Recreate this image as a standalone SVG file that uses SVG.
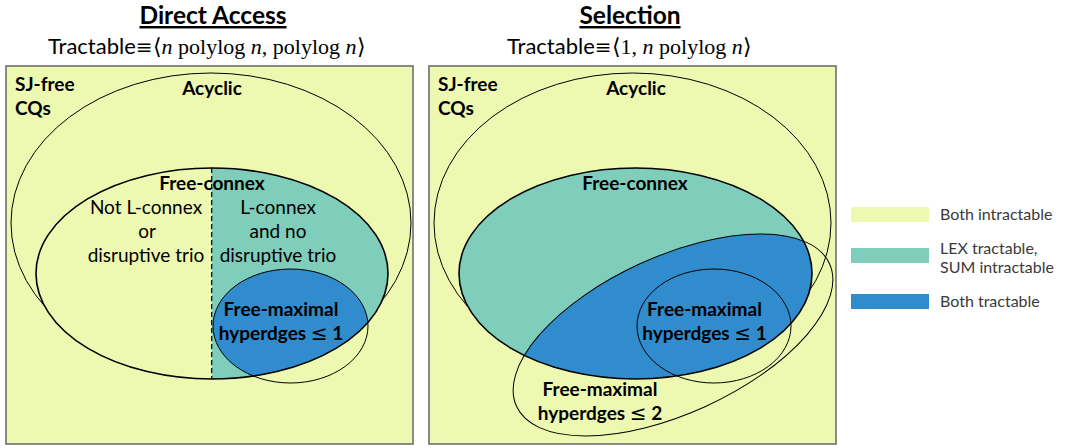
<svg xmlns="http://www.w3.org/2000/svg" width="1069" height="448" viewBox="0 0 1069 448">
<style>
.panel{fill:#edf8b1;stroke:#6e6e6e;stroke-width:1.6}
.thin{fill:none;stroke:#000;stroke-width:1}
.thick{fill:none;stroke:#000;stroke-width:1.6}
.t{font-family:Lato,"Liberation Sans",sans-serif;fill:#000;text-anchor:middle;font-size:19px}
.s{text-anchor:start}
.b{font-weight:bold}
.title{font-family:Lato,"Liberation Sans",sans-serif;font-weight:bold;font-size:24.5px;text-anchor:middle;text-decoration:underline}
.sub{font-family:Lato,"Liberation Sans",sans-serif;font-size:22px}
.m{font-family:"Liberation Serif",serif}
.eq{font-family:"DejaVu Serif",serif;font-size:20px}
.mi{font-family:"Liberation Serif",serif;font-style:italic}
.le{font-family:"DejaVu Sans",sans-serif;font-weight:normal;font-size:20px}
.lg{font-family:Lato,"Liberation Sans",sans-serif;font-size:16px;fill:#3a3a3a}
</style>
<defs>
<clipPath id="fcL"><ellipse cx="212" cy="273.5" rx="176" ry="105.5"/></clipPath>
<clipPath id="rightHalf"><rect x="211.7" y="150" width="200" height="250"/></clipPath>
<clipPath id="fcR"><ellipse cx="635.5" cy="273.5" rx="176.5" ry="105.5"/></clipPath>
</defs>
<rect width="1069" height="448" fill="#fff"/>

<g id="title-left">
<text class="title" x="213" y="24">Direct Access</text>
<text class="sub" x="48" y="54">Tractable<tspan class="eq">≡</tspan><tspan class="m">⟨</tspan><tspan class="mi">n</tspan><tspan class="m"> polylog </tspan><tspan class="mi">n</tspan><tspan class="m">, polylog </tspan><tspan class="mi">n</tspan><tspan class="m">⟩</tspan></text>
</g>

<g id="panel-left">
<rect class="panel" x="6" y="66" width="407" height="378"/>
<text class="t b s" x="15" y="91" font-size="18">SJ-free</text>
<text class="t b s" x="15" y="115" font-size="18">CQs</text>
</g>

<g id="acyclic-left">
<ellipse class="thin" cx="211" cy="223" rx="200" ry="150"/>
<text class="t b" x="212" y="95" font-size="18.5">Acyclic</text>
</g>

<g id="freeconnex-left">
<ellipse cx="212" cy="273.5" rx="176" ry="105.5" fill="#edf8b1"/>
<ellipse cx="212" cy="273.5" rx="176" ry="105.5" fill="#7fcdbb" clip-path="url(#rightHalf)"/>
<ellipse cx="290.5" cy="326" rx="77.5" ry="57" fill="#308ccc" clip-path="url(#fcL)"/>
<line x1="211.7" y1="168" x2="211.7" y2="379" stroke="#000" stroke-width="1.2" stroke-dasharray="5,3"/>
<ellipse class="thick" cx="212" cy="273.5" rx="176" ry="105.5"/>
<text class="t b" x="212" y="190">Free-connex</text>
<text class="t" x="146" y="214">Not L-connex</text>
<text class="t" x="147" y="238">or</text>
<text class="t" x="146" y="262">disruptive trio</text>
<text class="t" x="278" y="214">L-connex</text>
<text class="t" x="278" y="238">and no</text>
<text class="t" x="278" y="262">disruptive trio</text>
</g>

<g id="fm1-left">
<ellipse class="thin" cx="290.5" cy="326" rx="77.5" ry="57"/>
<text class="t b" x="281" y="316">Free-maximal</text>
<text class="t b" x="281" y="340">hyperdges <tspan class="le">≤</tspan> 1</text>
</g>

<g id="title-right">
<text class="title" x="630" y="24">Selection</text>
<text class="sub" x="507" y="54">Tractable<tspan class="eq">≡</tspan><tspan class="m">⟨1, </tspan><tspan class="mi">n</tspan><tspan class="m"> polylog </tspan><tspan class="mi">n</tspan><tspan class="m">⟩</tspan></text>
</g>

<g id="panel-right">
<rect class="panel" x="429" y="66" width="407" height="378"/>
<text class="t b s" x="438" y="91" font-size="18">SJ-free</text>
<text class="t b s" x="438" y="115" font-size="18">CQs</text>
</g>

<g id="acyclic-right">
<ellipse class="thin" cx="632.5" cy="223" rx="198.5" ry="150"/>
<text class="t b" x="636" y="95" font-size="18.5">Acyclic</text>
</g>

<g id="freeconnex-right">
<ellipse cx="635.5" cy="273.5" rx="176.5" ry="105.5" fill="#7fcdbb"/>
<g clip-path="url(#fcR)">
<ellipse cx="673" cy="335" rx="172" ry="78.5" transform="rotate(-24.5 673 335)" fill="#308ccc"/>
</g>
<ellipse class="thick" cx="635.5" cy="273.5" rx="176.5" ry="105.5"/>
<text class="t b" x="635" y="190">Free-connex</text>
</g>

<g id="fm2-right">
<ellipse class="thin" cx="673" cy="335" rx="172" ry="78.5" transform="rotate(-24.5 673 335)"/>
<text class="t b" x="600" y="396">Free-maximal</text>
<text class="t b" x="600" y="420">hyperdges <tspan class="le">≤</tspan> 2</text>
</g>

<g id="fm1-right">
<ellipse class="thin" cx="714" cy="326" rx="77" ry="57"/>
<text class="t b" x="704.5" y="316">Free-maximal</text>
<text class="t b" x="704.5" y="340">hyperdges <tspan class="le">≤</tspan> 1</text>
</g>

<g id="legend">
<rect x="851" y="207" width="78" height="15" fill="#edf8b1"/>
<text class="lg" x="940" y="220">Both intractable</text>
<rect x="851" y="248" width="78" height="15" fill="#7fcdbb"/>
<text class="lg" x="940" y="254">LEX tractable,</text>
<text class="lg" x="940" y="273">SUM intractable</text>
<rect x="851" y="294" width="78" height="15" fill="#308ccc"/>
<text class="lg" x="940" y="307">Both tractable</text>
</g>
</svg>
